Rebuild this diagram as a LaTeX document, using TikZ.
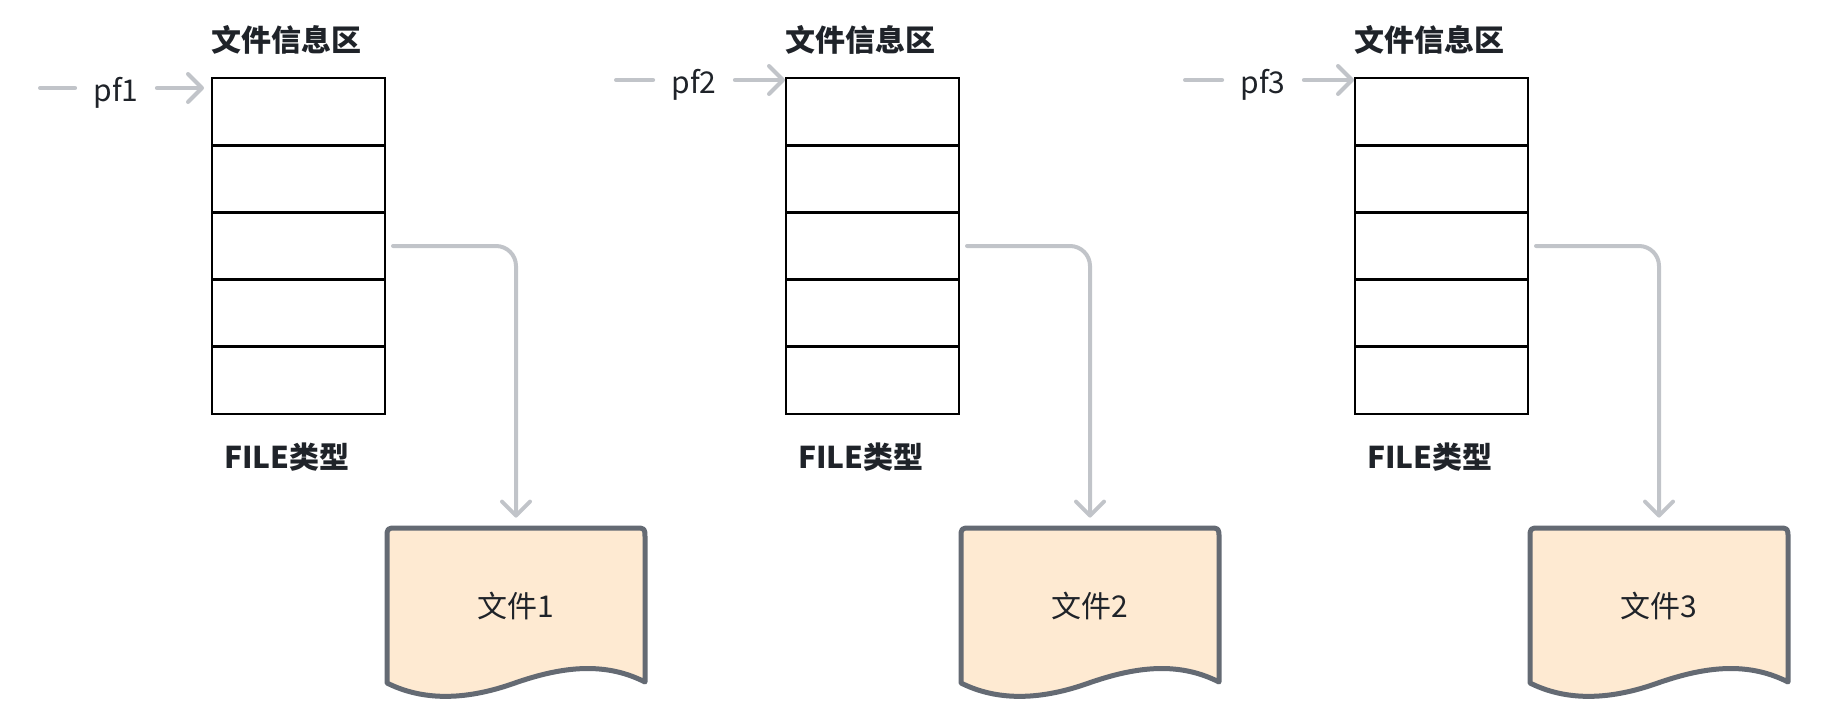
\documentclass[tikz,border=0pt]{standalone}
\usepackage{fontspec}
\setmainfont{Noto Sans CJK SC}
\usetikzlibrary{arrows.meta,calc}
\definecolor{ink}{HTML}{1F2329}
\definecolor{connc}{HTML}{C1C4C9}
\definecolor{docc}{HTML}{646A73}
\definecolor{docfill}{HTML}{FEEAD2}
\begin{document}
\begin{tikzpicture}[x=0.5pt,y=-0.5pt,
  conn/.style={draw=connc, line width=2pt, line cap=round},
  tip/.style={-{Straight Barb[length=7pt,width=14pt,round]}},
  cell/.style={draw=black, line width=1.4pt, minimum width=86.5pt, minimum height=33.6pt, inner sep=0pt, outer sep=0pt},
  title/.style={font=\fontsize{15pt}{18pt}\selectfont\bfseries, text=ink, inner sep=0pt},
  plabel/.style={font=\fontsize{15pt}{18pt}\selectfont, text=ink, text height=13pt, text depth=0pt, inner ysep=0pt, inner xsep=9pt},
  docbox/.style={minimum width=129pt, minimum height=77.5pt, inner sep=0pt, font=\fontsize{15pt}{18pt}\selectfont, text=ink},
  docline/.style={draw=docc, fill=docfill, line width=2.5pt, line join=round}
]
\useasboundingbox (0,0) rectangle (1840,723);
\foreach \n/\ox/\ay/\sx/\lc/\ex in {1/212/88/-172/-96/-8, 2/786/80/-170/-92/-1, 3/1355/80/-170/-92/-1}{
  % title
  \node[title, anchor=base west] (t\n) at ({\ox-1},51) {文件信息区};
  % table rows
  \foreach \r in {1,...,5}{
    \node[cell] (r\n-\r) at ({\ox+86.5},{78+67.2*(\r-0.5)}) {};
  }
  % FILE label
  \node[title, anchor=base] (f\n) at ({\ox+75},468) {FILE类型};
  % pointer
  \coordinate (s\n) at ({\ox+\sx},\ay);
  \coordinate (e\n) at ({\ox+\ex},\ay);
  \node[plabel] (p\n) at ({\ox+\lc},\ay) {pf\n};
  \draw[conn] (s\n) -- (p\n.west);
  \draw[conn, tip] (p\n.east) -- (e\n);
  % document
  \node[docbox] (d\n) at ({\ox+304},605.5) {};
  \draw[docline] ({\ox+175},683) -- ({\ox+175},538)
     .. controls ({\ox+175},528) .. ({\ox+185},528)
     -- ({\ox+423},528)
     .. controls ({\ox+433},528) .. ({\ox+433},538)
     -- ({\ox+433},682)
     .. controls ({\ox+175+215},660) and ({\ox+175+170},668) .. ({\ox+175+125},684)
     .. controls ({\ox+175+70},703) and ({\ox+175+30},698) .. ({\ox+175},683) -- cycle;
  \node[docbox] at (d\n.center) {文件\n};
  % connector
  \draw[conn, tip, rounded corners=10pt] ([xshift=4pt]r\n-3.east) -| ([yshift=5pt]d\n.north);
}
\end{tikzpicture}
\end{document}
